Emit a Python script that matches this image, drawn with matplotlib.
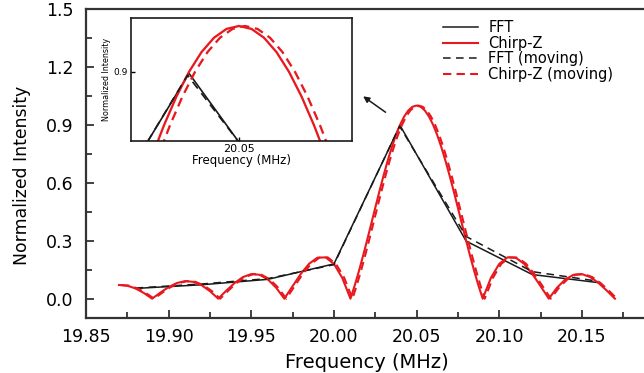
import matplotlib
matplotlib.use('Agg')
import matplotlib.pyplot as plt
from matplotlib.ticker import MultipleLocator, FixedLocator

plt.rcParams['font.family'] = ['DejaVu Sans']

# Chirp-Z spectrum (MHz, normalized)
chirp_freq = [19.870, 19.875, 19.880, 19.885, 19.890, 19.895, 19.900, 19.905, 19.910, 19.915,
              19.920, 19.925, 19.930, 19.935, 19.940, 19.945, 19.950, 19.955, 19.960, 19.965,
              19.970, 19.975, 19.980, 19.985, 19.990, 19.995, 20.000, 20.005, 20.010,
              20.0125, 20.0150, 20.0175, 20.0200, 20.0225, 20.0250, 20.0275, 20.0300, 20.0325,
              20.0350, 20.0375, 20.0400, 20.0425, 20.0450, 20.0475, 20.0500, 20.0525, 20.0550,
              20.0575, 20.0600, 20.0625, 20.0650, 20.0675, 20.0700, 20.0725, 20.0750, 20.0775,
              20.0800, 20.0825, 20.0850, 20.0875,
              20.090, 20.095, 20.100, 20.105, 20.110, 20.115, 20.120, 20.125, 20.130, 20.135,
              20.140, 20.145, 20.150, 20.155, 20.160, 20.165, 20.170]
chirp = [0.0707, 0.0672, 0.0530, 0.0295, 0.0, 0.0314, 0.0600, 0.0811, 0.0909, 0.0871,
         0.0693, 0.0390, 0.0, 0.0424, 0.0818, 0.1120, 0.1273, 0.1238, 0.1000, 0.0573,
         0.0, 0.0650, 0.1286, 0.1810, 0.2122, 0.2139, 0.1801, 0.1083, 0.0,
         0.0662, 0.1392, 0.2177, 0.3001, 0.3850, 0.4705, 0.5550, 0.6366, 0.7136,
         0.7842, 0.8469, 0.9003, 0.9432, 0.9745, 0.9936, 1.0, 0.9936, 0.9745,
         0.9432, 0.9003, 0.8469, 0.7842, 0.7136, 0.6366, 0.5550, 0.4705, 0.3850,
         0.3001, 0.2177, 0.1392, 0.0662,
         0.0, 0.1083, 0.1801, 0.2139, 0.2122, 0.1810, 0.1286, 0.0650, 0.0, 0.0573,
         0.1000, 0.1238, 0.1273, 0.1120, 0.0818, 0.0424, 0.0]
chirp_moving_shift = 0.0012  # frequency offset of moving spectrum (MHz)

# FFT spectrum
fft_freq = [19.88, 19.92, 19.96, 20.00, 20.04, 20.08, 20.12, 20.16]
fft = [0.053, 0.072, 0.100, 0.180, 0.897, 0.298, 0.125, 0.083]
fft_moving_freq = [19.88, 19.92, 19.96, 20.00, 20.0397, 20.08, 20.12, 20.16]
fft_moving = [0.055, 0.076, 0.104, 0.176, 0.893, 0.322, 0.140, 0.090]

labels = ['FFT', 'Chirp-Z', 'FFT (moving)', 'Chirp-Z (moving)']

RED = '#e8191e'
BLK = '#1a1a1a'
SPINE = '#333333'

fig = plt.figure(figsize=(6.44, 3.73), dpi=100)
ax = fig.add_axes([0.1335, 0.1475, 0.8727, 0.8284])


def draw(a, lw_scale=1.0):
    a.plot(fft_freq, fft, color=BLK, lw=1.1 * lw_scale, label=labels[0])
    a.plot(chirp_freq, chirp, color=RED, lw=1.5 * lw_scale, label=labels[1])
    a.plot(fft_moving_freq, fft_moving, color=BLK, lw=1.1 * lw_scale, ls=(0, (5, 3.5)), label=labels[2])
    a.plot([f + chirp_moving_shift for f in chirp_freq], chirp, color=RED, lw=1.5 * lw_scale,
           ls=(0, (4, 2.5)), label=labels[3])


draw(ax)
ax.set_xlim(19.85, 20.19)
ax.set_ylim(-0.1, 1.5)
ax.xaxis.set_major_locator(FixedLocator([19.85, 19.90, 19.95, 20.00, 20.05, 20.10, 20.15]))
ax.xaxis.set_minor_locator(MultipleLocator(0.025))
ax.yaxis.set_major_locator(FixedLocator([0.0, 0.3, 0.6, 0.9, 1.2, 1.5]))
ax.yaxis.set_minor_locator(MultipleLocator(0.15))
ax.xaxis.set_major_formatter(plt.FuncFormatter(lambda v, p: '%.2f' % v))
ax.yaxis.set_major_formatter(plt.FuncFormatter(lambda v, p: '%.1f' % v))
ax.tick_params(which='both', direction='in', color=SPINE, width=1.3, labelsize=12.5)
ax.tick_params(which='major', length=6)
ax.tick_params(which='minor', length=4)
ax.tick_params(axis='x', pad=7)
ax.tick_params(axis='y', pad=9)
for s in ['left', 'bottom', 'top']:
    ax.spines[s].set_color(SPINE)
    ax.spines[s].set_linewidth(1.6)
ax.spines['right'].set_visible(False)
ax.set_xlabel('Frequency (MHz)', fontsize=14, labelpad=5)
ax.set_ylabel('Normalized Intensity', fontsize=12.4)
ax.yaxis.set_label_coords(-0.097, 0.46)

leg = ax.legend(loc='upper left', bbox_to_anchor=(443 / 644, 1 - 20 / 373), bbox_transform=fig.transFigure,
                frameon=False, fontsize=10.5, borderpad=0, borderaxespad=0, handlelength=2.4,
                handletextpad=0.7, labelspacing=0.05)

# arrow pointing to the inset
ax.annotate('', xy=(20.0163, 1.056), xytext=(20.0326, 0.957),
            arrowprops=dict(arrowstyle='-|>', color=BLK, lw=1.1, mutation_scale=9))

# inset zoom around the peak
ins = fig.add_axes([0.2034, 0.622, 0.3432, 0.3298])
draw(ins, 1.1)
ins.set_xlim(20.0284, 20.0726)
ins.set_ylim(0.75, 1.0174)
ins.set_xticks([20.05])
ins.set_yticks([0.9])
ins.set_xticklabels(['20.05'], fontsize=8)
ins.set_yticklabels(['0.9'], fontsize=6.5)
ins.tick_params(direction='in', length=3, width=1, pad=2)
for s in ins.spines.values():
    s.set_linewidth(1.2)
    s.set_color(BLK)
ins.set_xlabel('Frequency (MHz)', fontsize=8.5, labelpad=0)
ins.set_ylabel('Normalized Intensity', fontsize=5.8, labelpad=2)

plt.savefig('out.png', dpi=100)
